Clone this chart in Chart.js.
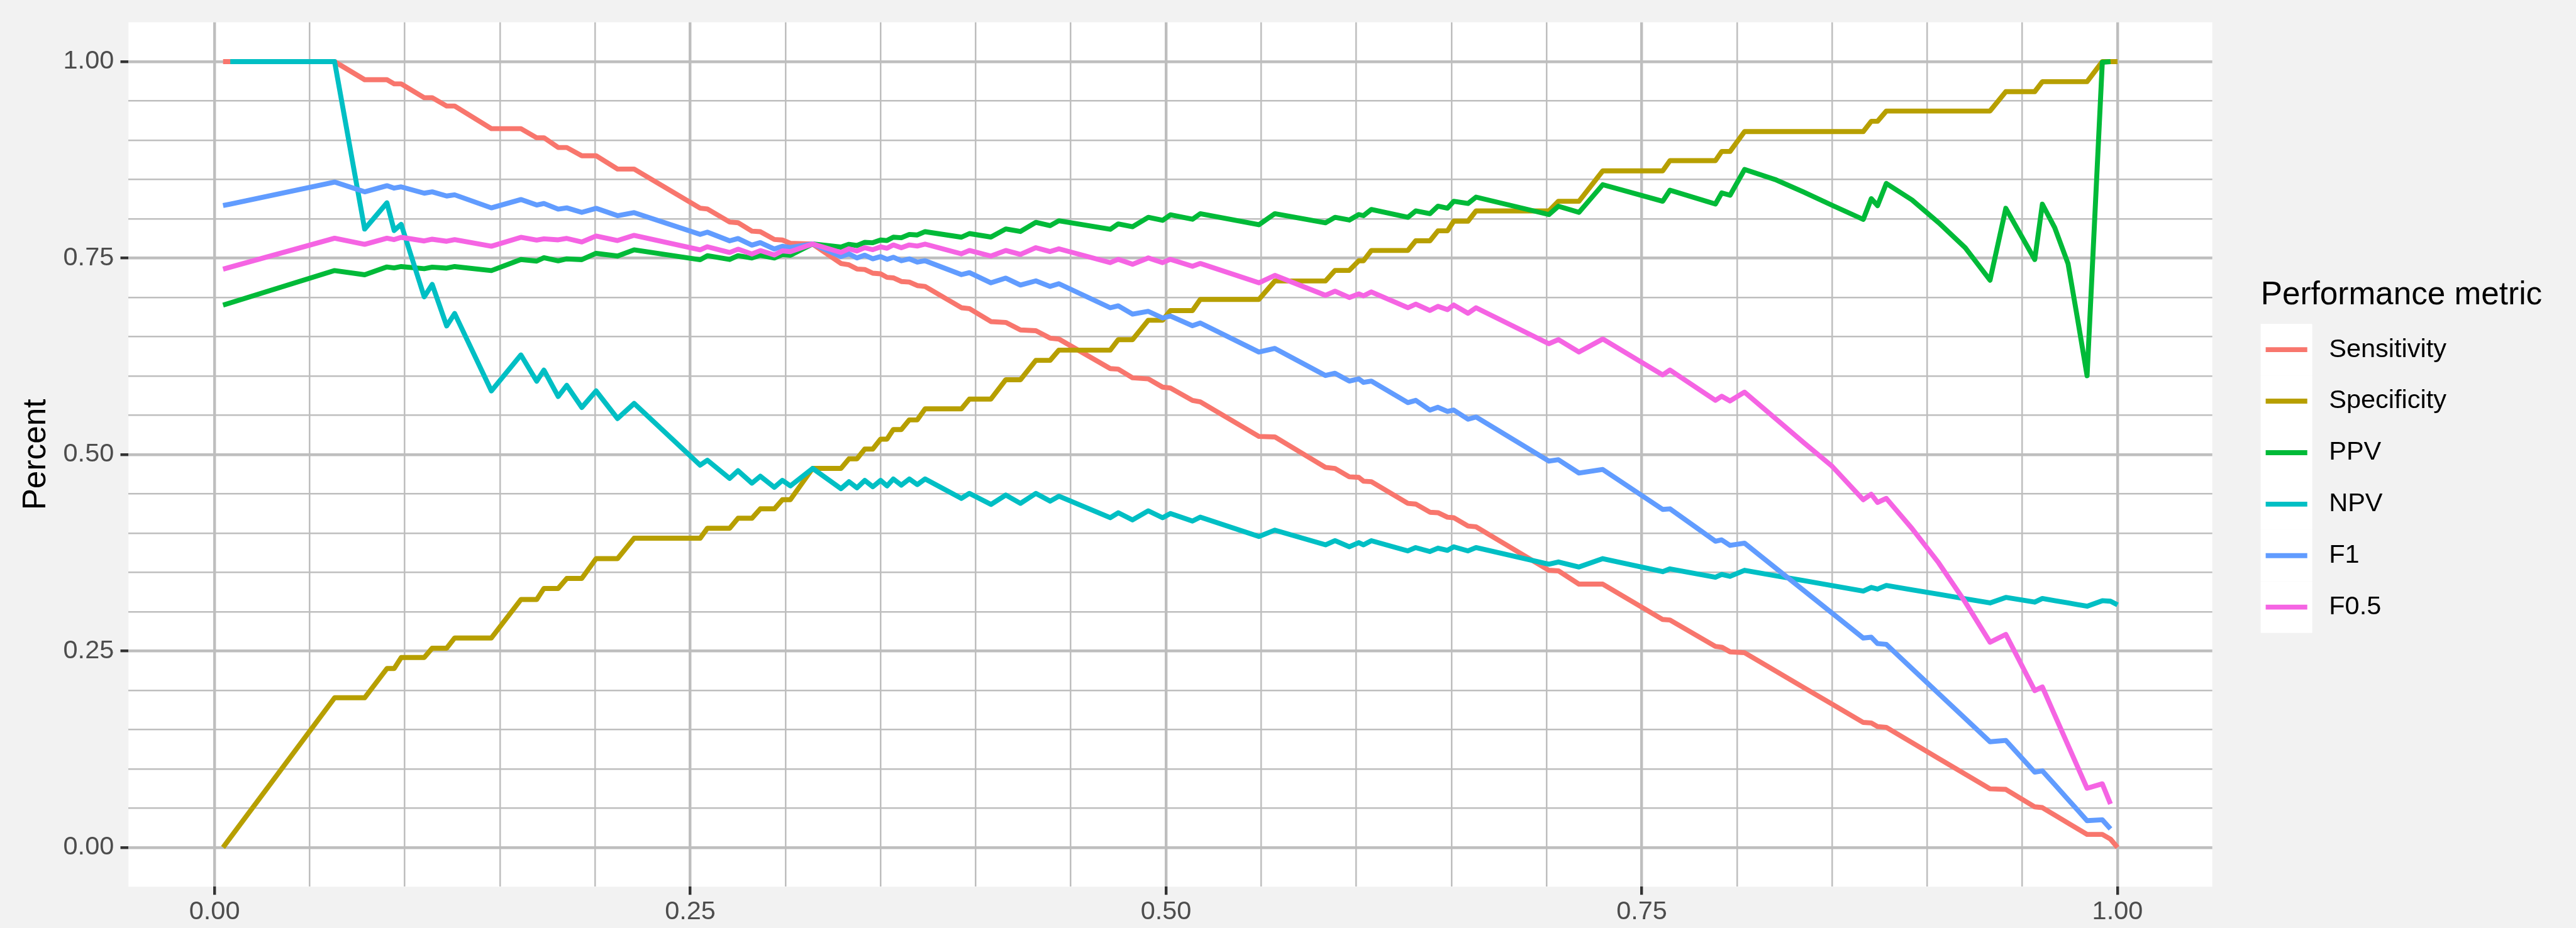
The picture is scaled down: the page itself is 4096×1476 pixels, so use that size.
<!DOCTYPE html>
<html>
<head>
<meta charset="utf-8">
<title>Performance metric</title>
<script src="https://cdn.jsdelivr.net/npm/chart.js@4.4.1/dist/chart.umd.min.js"></script>
<style>
  html, body { margin: 0; padding: 0; background: #f2f2f2; }
  canvas { display: block; }
</style>
</head>
<body>
<canvas id="chart" width="4096" height="1476"></canvas>
<script>
// Данные
const thresholds = [
  0.0045, 0.0083, 0.0631, 0.0789, 0.0906, 0.0944, 0.0981, 0.1102, 0.1144, 0.122,
  0.1262, 0.1455, 0.161, 0.1693, 0.1731, 0.1806, 0.1851, 0.193, 0.2005, 0.2118,
  0.2205, 0.2552, 0.259, 0.2707, 0.2751, 0.2824, 0.2868, 0.2942, 0.2984, 0.3026,
  0.3143, 0.3292, 0.3334, 0.3376, 0.3417, 0.3459, 0.35, 0.3534, 0.3567, 0.3609,
  0.3651, 0.3693, 0.3734, 0.3925, 0.3967, 0.408, 0.4158, 0.4235, 0.4316, 0.4391,
  0.4437, 0.4707, 0.4749, 0.4824, 0.4907, 0.4982, 0.5023, 0.5139, 0.518, 0.5488,
  0.5572, 0.5838, 0.5888, 0.5963, 0.6013, 0.6038, 0.6079, 0.6271, 0.6312, 0.6387,
  0.6429, 0.6479, 0.6512, 0.6587, 0.6629, 0.7012, 0.7062, 0.717, 0.7295, 0.761,
  0.7648, 0.7887, 0.792, 0.7964, 0.804, 0.82, 0.835, 0.85, 0.8664, 0.8706,
  0.8739, 0.8785, 0.892, 0.906, 0.92, 0.933, 0.9413, 0.9565, 0.9605, 0.967,
  0.974, 0.979, 0.984, 0.992, 0.9963, 1.0
];

const sensitivity = [
  1.0, 1.0, 1.0, 0.977, 0.977, 0.9717, 0.9717, 0.9541, 0.9541, 0.9435,
  0.9435, 0.9147, 0.9147, 0.9031, 0.9031, 0.8907, 0.8907, 0.8802, 0.8802, 0.8633,
  0.8633, 0.8135, 0.8125, 0.7959, 0.795, 0.7843, 0.7836, 0.7737, 0.773, 0.7688,
  0.7678, 0.7431, 0.7414, 0.7361, 0.7355, 0.7308, 0.73, 0.7255, 0.7248, 0.7202,
  0.7195, 0.715, 0.7139, 0.6868, 0.6857, 0.6692, 0.6681, 0.6586, 0.6576, 0.6481,
  0.647, 0.6094, 0.6087, 0.5977, 0.5963, 0.5858, 0.5847, 0.5689, 0.5671, 0.5231,
  0.5224, 0.4837, 0.4823, 0.4717, 0.471, 0.4661, 0.4655, 0.4379, 0.437, 0.4266,
  0.426, 0.4203, 0.4196, 0.409, 0.408, 0.3527, 0.352, 0.3351, 0.3351, 0.2901,
  0.2894, 0.2559, 0.2549, 0.2489, 0.2478, 0.2251, 0.2037, 0.1824, 0.1591, 0.1584,
  0.1538, 0.1528, 0.1334, 0.1133, 0.0932, 0.0746, 0.0739, 0.0517, 0.0507, 0.0413,
  0.0311, 0.0239, 0.0166, 0.0166, 0.0106, 0.0
];

const specificity = [
  0.0, 0.0124, 0.1905, 0.1905, 0.2277, 0.2277, 0.2417, 0.2417, 0.2536, 0.2536,
  0.2666, 0.2666, 0.3155, 0.3155, 0.3296, 0.3296, 0.3423, 0.3423, 0.3675, 0.3675,
  0.3935, 0.3935, 0.4062, 0.4062, 0.4189, 0.4189, 0.4309, 0.4309, 0.4425, 0.4425,
  0.4823, 0.4823, 0.4945, 0.4945, 0.507, 0.507, 0.5196, 0.5196, 0.5318, 0.5318,
  0.5441, 0.5441, 0.5582, 0.5582, 0.5706, 0.5706, 0.5952, 0.5952, 0.6199, 0.6199,
  0.6329, 0.6329, 0.6462, 0.6462, 0.6709, 0.6709, 0.6832, 0.6832, 0.6974, 0.6974,
  0.7209, 0.7209, 0.7343, 0.7343, 0.7466, 0.7466, 0.7597, 0.7597, 0.772, 0.772,
  0.7847, 0.7847, 0.797, 0.797, 0.81, 0.81, 0.8223, 0.8223, 0.861, 0.861,
  0.874, 0.874, 0.8857, 0.8857, 0.911, 0.911, 0.911, 0.911, 0.911, 0.9241,
  0.9241, 0.9371, 0.9371, 0.9371, 0.9371, 0.9371, 0.9618, 0.9618, 0.9745, 0.9745,
  0.9745, 0.9745, 0.9745, 1.0, 1.0, 1.0
];

const ppv = [
  0.6901, 0.6929, 0.7341, 0.7288, 0.7387, 0.7375, 0.7392, 0.7365, 0.7385, 0.7372,
  0.7392, 0.7341, 0.7482, 0.7462, 0.7505, 0.7465, 0.749, 0.748, 0.756, 0.7526,
  0.7605, 0.7479, 0.753, 0.7482, 0.753, 0.7501, 0.7535, 0.7501, 0.7545, 0.7535,
  0.768, 0.764, 0.7675, 0.766, 0.77, 0.7695, 0.773, 0.7723, 0.7766, 0.7759,
  0.7801, 0.7794, 0.7836, 0.7766, 0.7812, 0.7768, 0.7871, 0.7838, 0.7955, 0.7913,
  0.7975, 0.7866, 0.7935, 0.7899, 0.8019, 0.798, 0.805, 0.7994, 0.8065, 0.7924,
  0.8065, 0.7949, 0.8019, 0.7984, 0.8054, 0.804, 0.8118, 0.8019, 0.81, 0.8065,
  0.816, 0.8135, 0.8223, 0.8195, 0.8276, 0.8054, 0.816, 0.8082, 0.8434, 0.8223,
  0.8364, 0.8188, 0.8329, 0.830, 0.8627, 0.850, 0.834, 0.8172, 0.7992, 0.8256,
  0.8168, 0.845, 0.824, 0.795, 0.763, 0.7218, 0.8133, 0.7482, 0.8186, 0.7887,
  0.7429, 0.6725, 0.6003, 0.9992, 1.0, null
];

const npv = [
  null, 1.0, 1.0, 0.7869, 0.8203, 0.7851, 0.7929, 0.7007, 0.7165, 0.6637,
  0.6795, 0.581, 0.6267, 0.5933, 0.6074, 0.5739, 0.588, 0.5599, 0.581, 0.5458,
  0.565, 0.4865, 0.4928, 0.4696, 0.4794, 0.4636, 0.4724, 0.4583, 0.4671, 0.4601,
  0.4823, 0.4566, 0.4654, 0.4576, 0.4671, 0.459, 0.4671, 0.4601, 0.4689, 0.4611,
  0.4689, 0.4618, 0.4689, 0.4442, 0.4506, 0.4365, 0.4485, 0.4379, 0.4506, 0.4407,
  0.447, 0.4196, 0.4259, 0.4168, 0.4284, 0.4196, 0.4249, 0.4154, 0.4203, 0.3957,
  0.4038, 0.3851, 0.3904, 0.3826, 0.3879, 0.3851, 0.3904, 0.3774, 0.3816, 0.3766,
  0.3809, 0.3781, 0.3826, 0.3774, 0.3816, 0.3605, 0.3633, 0.3569, 0.3675, 0.351,
  0.3545, 0.3439, 0.3474, 0.345, 0.3527, 0.3459, 0.3396, 0.3333, 0.3263, 0.3309,
  0.3288, 0.3334, 0.3279, 0.3222, 0.3165, 0.3112, 0.3182, 0.3122, 0.3168, 0.3141,
  0.3112, 0.3091, 0.307, 0.314, 0.3133, 0.3087
];

const f1 = [
  0.8168, 0.8187, 0.8467, 0.8343, 0.8421, 0.839, 0.8406, 0.8326, 0.8343, 0.829,
  0.8305, 0.8139, 0.8245, 0.8175, 0.8195, 0.8123, 0.8139, 0.8082, 0.8133, 0.8039,
  0.8078, 0.7802, 0.783, 0.772, 0.7749, 0.7665, 0.7697, 0.7615, 0.765, 0.7635,
  0.768, 0.7519, 0.7554, 0.7502, 0.7537, 0.7491, 0.7519, 0.7484, 0.751, 0.7466,
  0.749, 0.7449, 0.7466, 0.729, 0.7315, 0.7185, 0.7245, 0.7157, 0.721, 0.7139,
  0.7174, 0.6868, 0.6893, 0.6787, 0.6822, 0.6738, 0.6762, 0.6639, 0.6674, 0.6305,
  0.635, 0.6006, 0.6034, 0.5935, 0.5963, 0.5918, 0.5935, 0.5661, 0.5689, 0.5566,
  0.5601, 0.5548, 0.5566, 0.545, 0.5478, 0.4916, 0.4934, 0.4765, 0.481, 0.4302,
  0.4309, 0.3897, 0.3914, 0.3844, 0.3872, 0.3563, 0.3272, 0.2982, 0.2665, 0.2675,
  0.2594, 0.2584, 0.2277, 0.1959, 0.1641, 0.1345, 0.1362, 0.0958, 0.0975, 0.08,
  0.0611, 0.0476, 0.0341, 0.0352, 0.0236, null
];

const f05 = [
  0.7359, 0.7385, 0.7753, 0.7675, 0.7753, 0.7735, 0.7764, 0.7718, 0.774, 0.7714,
  0.7735, 0.7651, 0.7764, 0.7729, 0.7745, 0.7732, 0.775, 0.7705, 0.7781, 0.7723,
  0.7789, 0.7605, 0.7644, 0.7571, 0.7613, 0.7552, 0.7595, 0.7539, 0.7592, 0.7582,
  0.768, 0.7572, 0.7618, 0.759, 0.7632, 0.7607, 0.7642, 0.7625, 0.7667, 0.7632,
  0.7667, 0.7653, 0.7678, 0.7554, 0.7597, 0.7526, 0.7597, 0.7547, 0.7632, 0.7583,
  0.7618, 0.7442, 0.7484, 0.7421, 0.7502, 0.7442, 0.7484, 0.7396, 0.7431, 0.7185,
  0.728, 0.7026, 0.7079, 0.6998, 0.7044, 0.7019, 0.7069, 0.6868, 0.6914, 0.6833,
  0.6886, 0.6843, 0.6903, 0.6798, 0.6868, 0.641, 0.6463, 0.6305, 0.647, 0.6013,
  0.6076, 0.5689, 0.5742, 0.5682, 0.5794, 0.5464, 0.5154, 0.4851, 0.4425, 0.4495,
  0.439, 0.4442, 0.4059, 0.3622, 0.3121, 0.2612, 0.2711, 0.1996, 0.2042, 0.1685,
  0.1301, 0.1027, 0.0753, 0.081, 0.0553, null
];

const metricNames = ['Sensitivity', 'Specificity', 'PPV', 'NPV', 'F1', 'F0.5'];
const metricColors = ['#F8766D', '#B79F00', '#00BA38', '#00BFC4', '#619CFF', '#F564E3'];
const metricValues = [sensitivity, specificity, ppv, npv, f1, f05];

// Деления осей
const gridBreaks = [0, 0.05, 0.1, 0.15, 0.2, 0.25, 0.3, 0.35, 0.4, 0.45, 0.5,
                    0.55, 0.6, 0.65, 0.7, 0.75, 0.8, 0.85, 0.9, 0.95, 1];
const labelBreaks = [0, 0.25, 0.5, 0.75, 1];
const yTitle = 'Percent';
const legendTitle = 'Performance metric';

// Размеры (пиксели оригинала * 0.987)
const FONT = '"Liberation Sans", Arial, Helvetica, sans-serif';
const TICK_SIZE = 41.5;
const TITLE_SIZE = 51.3;
const LINE_W = 7.9;

const isMajor = (v) => labelBreaks.some(b => Math.abs(b - v) < 1e-6);

// Фон: серый вокруг, белая панель
const backgroundPlugin = {
    id: 'ggBackground',
    beforeDraw: (chart) => {
        const {ctx, chartArea: a} = chart;
        ctx.save();
        ctx.fillStyle = '#F2F2F2';
        ctx.fillRect(0, 0, chart.width, chart.height);
        ctx.fillStyle = '#FFFFFF';
        ctx.fillRect(a.left, a.top, a.right - a.left, a.bottom - a.top);
        ctx.restore();
    }
};

// Легенда как в ggplot
const legendPlugin = {
    id: 'ggLegend',
    afterDraw: (chart) => {
        const ctx = chart.ctx;
        const left = 3594.7;
        const keySize = 81.9;
        const firstTop = 515.2;
        ctx.save();
        ctx.fillStyle = '#000000';
        ctx.font = TITLE_SIZE + 'px ' + FONT;
        ctx.textAlign = 'left';
        ctx.textBaseline = 'alphabetic';
        ctx.fillText(legendTitle, left, 484.3);
        chart.data.datasets.forEach((ds, i) => {
            let top = firstTop + i * keySize;
            let mid = top + keySize / 2;
            ctx.fillStyle = '#FFFFFF';
            ctx.fillRect(left, top, keySize, keySize);
            ctx.strokeStyle = ds.borderColor;
            ctx.lineWidth = LINE_W;
            ctx.lineCap = 'butt';
            ctx.beginPath();
            ctx.moveTo(left + 7.9, mid);
            ctx.lineTo(left + keySize - 7.9, mid);
            ctx.stroke();
            ctx.fillStyle = '#000000';
            ctx.font = TICK_SIZE + 'px ' + FONT;
            ctx.textBaseline = 'middle';
            ctx.fillText(ds.label, 3703.2, mid);
        });
        ctx.restore();
    }
};

const datasets = metricNames.map((name, i) => ({
    label: name,
    data: thresholds.map((t, j) => ({x: t, y: metricValues[i][j]})),
    borderColor: metricColors[i],
    backgroundColor: metricColors[i],
    borderWidth: LINE_W,
    borderJoinStyle: 'round',
    borderCapStyle: 'butt',
    pointRadius: 0,
    pointHoverRadius: 0,
    tension: 0,
    fill: false,
    spanGaps: false,
    order: metricNames.length - i
}));

const gridConfig = {
    color: '#BEBEBE',
    lineWidth: (c) => (c.tick && isMajor(c.tick.value)) ? 4.4 : 2.5,
    tickLength: 12.8,
    tickWidth: 4.4,
    tickColor: (c) => (c.tick && isMajor(c.tick.value)) ? '#333333' : 'rgba(0,0,0,0)'
};

const tickFont = { family: FONT, size: TICK_SIZE };

let config = {
    type: 'line',
    data: { datasets: datasets },
    options: {
        responsive: false,
        animation: false,
        devicePixelRatio: 1,
        layout: { padding: { top: 35.5, right: 578.3, bottom: 0, left: 0 } },
        scales: {
            x: {
                type: 'linear',
                bounds: 'data',
                min: -0.0452,
                max: 1.0498,
                afterBuildTicks: (s) => { s.ticks = gridBreaks.map(v => ({ value: v })); },
                afterFit: (s) => { s.height = 65.6; },
                ticks: {
                    autoSkip: false,
                    maxRotation: 0,
                    padding: 2.3,
                    color: '#4D4D4D',
                    font: tickFont,
                    callback: (v) => isMajor(v) ? Number(v).toFixed(2) : ''
                },
                grid: gridConfig,
                border: { display: false }
            },
            y: {
                type: 'linear',
                bounds: 'data',
                min: -0.05,
                max: 1.05,
                afterBuildTicks: (s) => { s.ticks = gridBreaks.map(v => ({ value: v })); },
                afterFit: (s) => { s.width = 204.3; },
                ticks: {
                    autoSkip: false,
                    padding: 10.2,
                    color: '#4D4D4D',
                    font: tickFont,
                    callback: (v) => isMajor(v) ? Number(v).toFixed(2) : ''
                },
                grid: gridConfig,
                border: { display: false },
                title: {
                    display: true,
                    text: yTitle,
                    color: '#000000',
                    font: { family: FONT, size: TITLE_SIZE },
                    padding: { top: 27.4, bottom: 0 }
                }
            }
        },
        plugins: {
            legend: { display: false },
            tooltip: { enabled: false }
        }
    },
    plugins: [backgroundPlugin, legendPlugin]
};

let chart = new Chart(document.getElementById('chart').getContext('2d'), config);
</script>
</body>
</html>
